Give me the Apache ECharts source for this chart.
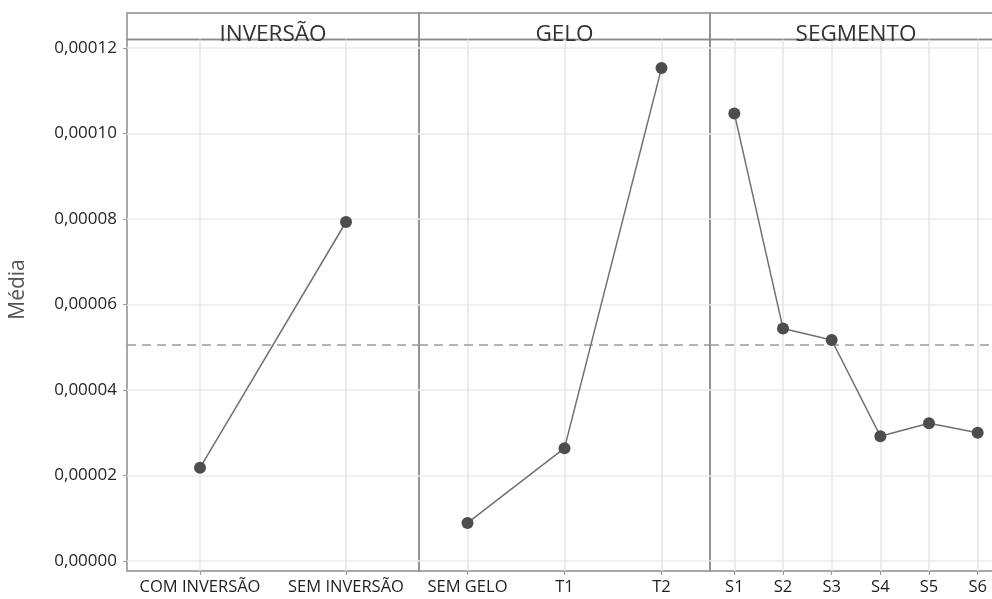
<!DOCTYPE html>
<html>
<head>
<meta charset="utf-8">
<script src="https://cdn.jsdelivr.net/npm/echarts@6/dist/echarts.min.js"></script>
<style>
  html, body { margin: 0; padding: 0; background: #ffffff; }
  #chart { width: 992px; height: 599px; }
</style>
</head>
<body>
<div id="chart"></div>
<script>
// Main effects plot: mean response per level of each factor
const factorNames = ['INVERSÃO', 'GELO', 'SEGMENTO'];

const inversaoLevels = ['COM INVERSÃO', 'SEM INVERSÃO'];
const inversaoMeans = [0.0000218, 0.0000793];

const geloLevels = ['SEM GELO', 'T1', 'T2'];
const geloMeans = [0.0000089, 0.0000264, 0.0001153];

const segmentoLevels = ['S1', 'S2', 'S3', 'S4', 'S5', 'S6'];
const segmentoMeans = [0.0001047, 0.0000544, 0.0000517, 0.0000292, 0.0000322, 0.0000300];

// grand mean (dashed reference line)
const overallMean = 0.0000505;

// value axis range and tick step
const yMin = 0;
const yMax = 0.00012;
const yStep = 0.00002;

const FONT = '"Open Sans", "Noto Sans", sans-serif';
const FRAME = '#8c8c8c';

// horizontal placement of the three panels (left / right offsets in px)
const panelBox = [
  { left: 127, right: 573 },
  { left: 419, right: 282 },
  { left: 710, right: -10 }
];
const panels = [
  { name: factorNames[0], levels: inversaoLevels, means: inversaoMeans },
  { name: factorNames[1], levels: geloLevels, means: geloMeans },
  { name: factorNames[2], levels: segmentoLevels, means: segmentoMeans }
];

const grid = [], xAxis = [], yAxis = [], series = [];

// plotting grids (0..2): hold the points and the value scale
panels.forEach((p, i) => {
  grid.push({ left: panelBox[i].left, right: panelBox[i].right, top: 48, bottom: 38,
              outerBoundsMode: 'none', containLabel: false });
  xAxis.push({ gridIndex: i, type: 'category', data: p.levels, show: false, boundaryGap: true });
  yAxis.push({
    gridIndex: i, type: 'value', min: yMin, max: yMax, interval: yStep,
    axisLine: { show: false },
    axisTick: { show: i === 0, length: 4, lineStyle: { color: '#9a9a9a', width: 1 } },
    axisLabel: {
      show: i === 0, margin: 10, fontFamily: FONT, fontSize: 17, color: '#262626',
      formatter: v => v.toFixed(5).replace('.', ',')
    },
    splitLine: { show: true, lineStyle: { color: '#ebebeb', width: 1.5 } },
    name: i === 0 ? 'Média' : '',
    nameLocation: 'middle',
    nameGap: 98,
    nameTextStyle: { fontFamily: FONT, fontSize: 21, color: '#555555', padding: [0, 0, 0, 30] }
  });
  series.push({
    type: 'line',
    xAxisIndex: i, yAxisIndex: i,
    data: p.means,
    symbol: 'circle', symbolSize: 12,
    itemStyle: { color: '#4d4d4d' },
    lineStyle: { color: '#707070', width: 1.5 },
    z: 5,
    animation: false,
    markLine: {
      silent: true, symbol: ['none', 'none'], animation: false, precision: 10,
      label: { show: false },
      lineStyle: { type: [9, 6], color: '#9a9a9a', width: 1.5 },
      data: [{ yAxis: overallMean }]
    }
  });
});

// frame grids (3..5): panel border, level gridlines, level labels
panels.forEach((p, i) => {
  const g = grid.length;
  grid.push({ left: panelBox[i].left, right: panelBox[i].right, top: 39.5, bottom: 28,
              show: true, borderColor: FRAME, borderWidth: 1.5, backgroundColor: 'transparent',
              outerBoundsMode: 'none', containLabel: false });
  xAxis.push({
    gridIndex: g, type: 'category', data: p.levels, boundaryGap: true,
    axisLine: { show: false },
    axisTick: { show: true, alignWithLabel: true, interval: 0, length: 4,
                lineStyle: { color: '#9a9a9a', width: 1 } },
    axisLabel: { interval: 0, margin: 8, fontFamily: FONT, fontSize: 16.5, color: '#1e1e1e' },
    splitLine: { show: true, alignWithLabel: true, interval: 0,
                 lineStyle: { color: '#e6e6e6', width: 1.5 } }
  });
  yAxis.push({ gridIndex: g, type: 'value', min: 0, max: 1, show: false });
});

// header grids (6..8): factor title boxes
panels.forEach((p, i) => {
  const g = grid.length;
  grid.push({ left: panelBox[i].left, right: panelBox[i].right, top: 13, height: 26.5,
              show: true, borderColor: FRAME, borderWidth: 1.5, backgroundColor: 'transparent',
              outerBoundsMode: 'none', containLabel: false });
  xAxis.push({
    gridIndex: g, type: 'category', data: [p.name],
    axisLine: { show: false }, axisTick: { show: false }, splitLine: { show: false },
    axisLabel: { interval: 0, margin: 7, verticalAlign: 'bottom',
                 fontFamily: FONT, fontSize: 22.5, color: '#333333' }
  });
  yAxis.push({ gridIndex: g, type: 'value', min: 0, max: 1, show: false });
});

const chart = echarts.init(document.getElementById('chart'), null, { renderer: 'canvas' });
chart.setOption({
  animation: false,
  backgroundColor: '#ffffff',
  grid, xAxis, yAxis, series
});
</script>
</body>
</html>
